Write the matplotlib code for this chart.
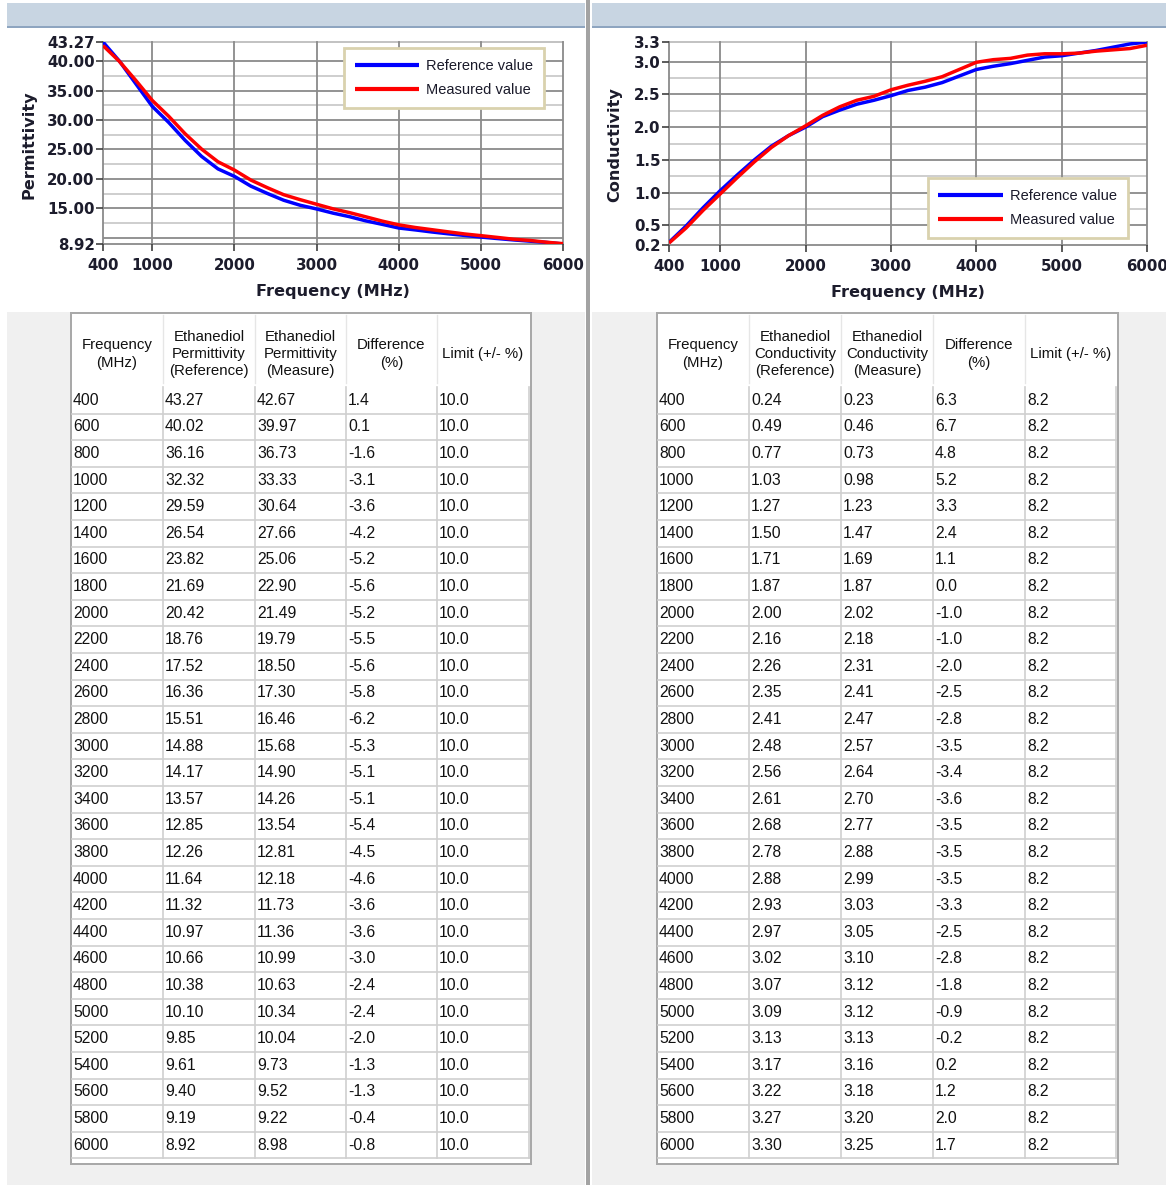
import matplotlib.pyplot as plt
from matplotlib.patches import Rectangle

# table / chart data
freq = [400, 600, 800, 1000, 1200, 1400, 1600, 1800, 2000, 2200, 2400, 2600, 2800, 3000, 3200,
        3400, 3600, 3800, 4000, 4200, 4400, 4600, 4800, 5000, 5200, 5400, 5600, 5800, 6000]

perm_ref = [43.27, 40.02, 36.16, 32.32, 29.59, 26.54, 23.82, 21.69, 20.42, 18.76, 17.52, 16.36, 15.51,
            14.88, 14.17, 13.57, 12.85, 12.26, 11.64, 11.32, 10.97, 10.66, 10.38, 10.10, 9.85, 9.61,
            9.40, 9.19, 8.92]
perm_meas = [42.67, 39.97, 36.73, 33.33, 30.64, 27.66, 25.06, 22.90, 21.49, 19.79, 18.50, 17.30, 16.46,
             15.68, 14.90, 14.26, 13.54, 12.81, 12.18, 11.73, 11.36, 10.99, 10.63, 10.34, 10.04, 9.73,
             9.52, 9.22, 8.98]
perm_diff = [1.4, 0.1, -1.6, -3.1, -3.6, -4.2, -5.2, -5.6, -5.2, -5.5, -5.6, -5.8, -6.2, -5.3, -5.1,
             -5.1, -5.4, -4.5, -4.6, -3.6, -3.6, -3.0, -2.4, -2.4, -2.0, -1.3, -1.3, -0.4, -0.8]
perm_limit = 10.0

cond_ref = [0.24, 0.49, 0.77, 1.03, 1.27, 1.50, 1.71, 1.87, 2.00, 2.16, 2.26, 2.35, 2.41, 2.48, 2.56,
            2.61, 2.68, 2.78, 2.88, 2.93, 2.97, 3.02, 3.07, 3.09, 3.13, 3.17, 3.22, 3.27, 3.30]
cond_meas = [0.23, 0.46, 0.73, 0.98, 1.23, 1.47, 1.69, 1.87, 2.02, 2.18, 2.31, 2.41, 2.47, 2.57, 2.64,
             2.70, 2.77, 2.88, 2.99, 3.03, 3.05, 3.10, 3.12, 3.12, 3.13, 3.16, 3.18, 3.20, 3.25]
cond_diff = [6.3, 6.7, 4.8, 5.2, 3.3, 2.4, 1.1, 0.0, -1.0, -1.0, -2.0, -2.5, -2.8, -3.5, -3.4,
             -3.6, -3.5, -3.5, -3.5, -3.3, -2.5, -2.8, -1.8, -0.9, -0.2, 0.2, 1.2, 2.0, 1.7]
cond_limit = 8.2

x_ticks = [400, 1000, 2000, 3000, 4000, 5000, 6000]
perm_ticks = [8.92, 15.00, 20.00, 25.00, 30.00, 35.00, 40.00, 43.27]
cond_ticks = [0.2, 0.5, 1.0, 1.5, 2.0, 2.5, 3.0, 3.3]

perm_headers = ["Frequency\n(MHz)", "Ethanediol\nPermittivity\n(Reference)",
                "Ethanediol\nPermittivity\n(Measure)", "Difference\n(%)", "Limit (+/- %)"]
cond_headers = ["Frequency\n(MHz)", "Ethanediol\nConductivity\n(Reference)",
                "Ethanediol\nConductivity\n(Measure)", "Difference\n(%)", "Limit (+/- %)"]

W, H = 1166, 1185
TABLE_FONT = ["Liberation Sans Narrow", "Liberation Sans", "DejaVu Sans"]
TICK_COLOR = "#1c1c2c"

fig = plt.figure(figsize=(W / 100, H / 100), dpi=100)
fig.patch.set_facecolor("white")
bg = fig.add_axes([0, 0, 1, 1])
bg.set_xlim(0, W)
bg.set_ylim(H, 0)
bg.axis("off")


def rect(x0, y0, x1, y1, color, z=0):
    bg.add_patch(Rectangle((x0, y0), x1 - x0, y1 - y0, facecolor=color, edgecolor="none", zorder=z))


def px_axes(x0, y0, x1, y1):
    return fig.add_axes([x0 / W, 1 - y1 / H, (x1 - x0) / W, (y1 - y0) / H])


# window chrome
for x0, x1 in [(7, 585), (592, 1166)]:
    rect(x0, 3, x1, 26, "#c8d5e2")
    rect(x0, 25.5, x1, 27.5, "#8ea5c0")
    rect(x0, 312, x1, H, "#f0f0f0")
rect(586, 0, 590, H, "#a3a3a3")


def draw_chart(box, ref, meas, ylim, ticks, fmt, major, minor, ylabel, ylabel_x, leg_loc, leg_anchor):
    ax = px_axes(*box)
    ax.set_xlim(400, 6000)
    ax.set_ylim(*ylim)
    for s in ax.spines.values():
        s.set_visible(False)
    for v in minor:
        ax.axhline(v, color="#cacaca", lw=1.3, zorder=1)
    for v in major:
        ax.axhline(v, color="#8a8a8a", lw=1.3, zorder=1)
    ax.axhline(ylim[1], color="#bdbdbd", lw=1.3, zorder=1, clip_on=False)
    ax.axhline(ylim[0], color="#8a8a8a", lw=1.3, zorder=1, clip_on=False)
    for v in x_ticks:
        ax.axvline(v, color="#8a8a8a", lw=1.3, zorder=1, clip_on=False)

    ax.plot(freq, ref, color="#0000ff", lw=2.5, label="Reference value", zorder=3,
            solid_capstyle="butt")
    ax.plot(freq, meas, color="#ff0000", lw=2.5, label="Measured value", zorder=4,
            solid_capstyle="butt")

    ax.set_xticks(x_ticks)
    ax.set_yticks(ticks, [fmt.format(t) for t in ticks])
    ax.tick_params(direction="out", length=5, width=1.2, color="#404040", pad=1,
                   labelsize=10.8, labelcolor=TICK_COLOR)
    ax.tick_params(axis="x", pad=5)
    for lab in ax.get_xticklabels() + ax.get_yticklabels():
        lab.set_fontweight("bold")
    ax.set_xlabel("Frequency (MHz)", fontsize=11.6, fontweight="bold", color=TICK_COLOR, labelpad=8)
    fig.text(ylabel_x / W, 1 - 145 / H, ylabel, rotation=90, ha="center", va="center",
             fontsize=11.6, fontweight="bold", color=TICK_COLOR)

    leg = ax.legend(loc=leg_loc, bbox_to_anchor=leg_anchor, frameon=True, fancybox=False,
                    prop={"family": "Liberation Sans", "size": 10.5}, handlelength=4.4,
                    handletextpad=0.5, borderpad=0.75, labelspacing=0.7, borderaxespad=0)
    frame = leg.get_frame()
    frame.set_edgecolor("#d9d2ae")
    frame.set_linewidth(2)
    frame.set_facecolor("white")
    frame.set_alpha(1)
    leg.set_zorder(10)
    for line in leg.get_lines():
        line.set_linewidth(3)
    for t in leg.get_texts():
        t.set_color("#1a1a2a")
    return ax


draw_chart((103, 42, 563, 244), perm_ref, perm_meas, (8.92, 43.27), perm_ticks, "{:.2f}",
           [10, 15, 20, 25, 30, 35, 40], [12.5, 17.5, 22.5, 27.5, 32.5, 37.5],
           "Permittivity", 29, "upper right", (0.959, 0.97))
draw_chart((669, 42, 1147, 245), cond_ref, cond_meas, (0.2, 3.3), cond_ticks, "{:.1f}",
           [0.5, 1.0, 1.5, 2.0, 2.5, 3.0], [0.75, 1.25, 1.75, 2.25, 2.75],
           "Conductivity", 615, "lower right", (0.96, 0.034))


def draw_table(cols, headers, ref, meas, diff, limit):
    top, head_h, row_h = 313, 74, 26.6
    left, right = cols[0], cols[-1]
    bottom = top + head_h + row_h * len(freq)
    # outer frame + white cell area
    rect(left - 1, top - 1, right + 3, bottom + 7, "#a9a9a9", z=1)
    rect(left + 1, top + 1, right + 1, bottom + 5, "white", z=2)
    for x in cols[1:-1]:
        bg.plot([x, x], [top + 2, top + head_h - 4], color="#e6e6e6", lw=1, zorder=3)
        bg.plot([x, x], [top + head_h, bottom], color="#cfcfcf", lw=1.2, zorder=3)
    bg.plot([cols[-1], cols[-1]], [top + head_h, bottom], color="#cfcfcf", lw=1.2, zorder=3)
    for i in range(1, len(freq) + 1):
        y = top + head_h + i * row_h
        bg.plot([left + 1, cols[-1]], [y, y], color="#cfcfcf", lw=1.2, zorder=3)
    for j, h in enumerate(headers):
        bg.text((cols[j] + cols[j + 1]) / 2, top + head_h / 2 + 4, h, ha="center", va="center",
                fontsize=10.8, family=TABLE_FONT, linespacing=1.28, zorder=4, color="#111111")
    for i, f in enumerate(freq):
        y = top + head_h + (i + 0.5) * row_h
        row = [str(f), f"{ref[i]:.2f}", f"{meas[i]:.2f}", f"{diff[i]:.1f}", f"{limit:.1f}"]
        for j, val in enumerate(row):
            bg.text(cols[j] + 2, y, val, ha="left", va="center", fontsize=11.3,
                    family=TABLE_FONT, zorder=4, color="#111111")


draw_table([71, 163, 255, 346, 437, 529], perm_headers, perm_ref, perm_meas, perm_diff, perm_limit)
draw_table([657, 749, 841, 933, 1025, 1116], cond_headers, cond_ref, cond_meas, cond_diff, cond_limit)

fig.savefig("out.png", dpi=100)
